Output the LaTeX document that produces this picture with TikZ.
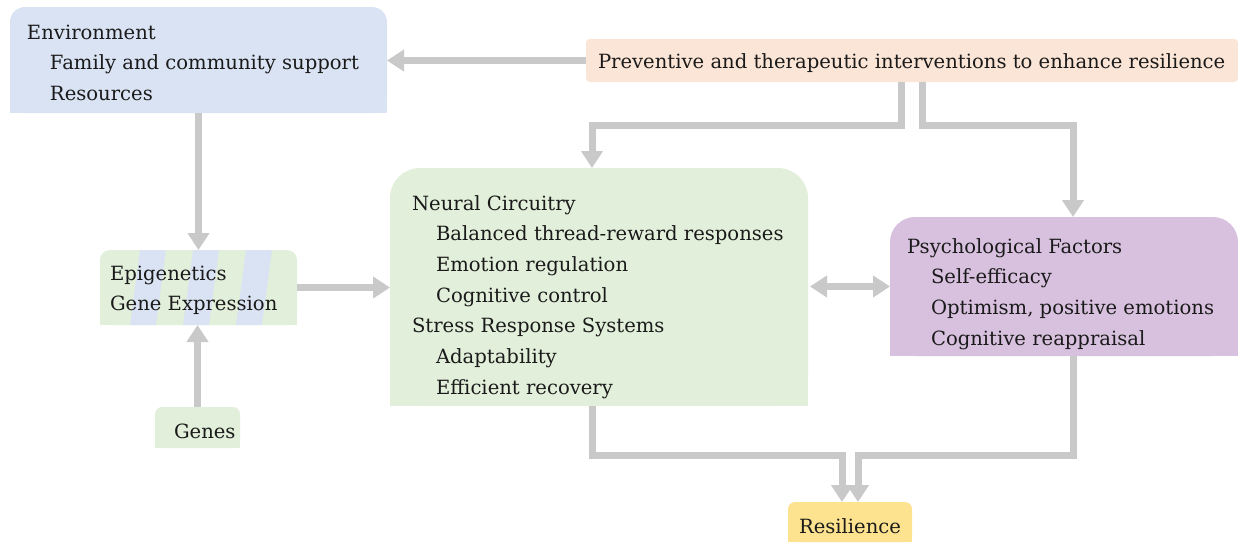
\documentclass[tikz,border=0pt]{standalone}
\usepackage{fontspec}
\setmainfont{DejaVu Serif}
\usetikzlibrary{arrows.meta,calc}

\definecolor{envblue}{HTML}{DAE3F3}
\definecolor{prevpeach}{HTML}{FBE5D6}
\definecolor{neurgreen}{HTML}{E2EFDA}
\definecolor{psychpurple}{HTML}{D8C1DF}
\definecolor{resyellow}{HTML}{FDE38F}
\definecolor{arrowgray}{HTML}{C9C9C9}
\definecolor{inkblack}{HTML}{1A1A1A}

% fill a box whose top corners are rounded and bottom corners square
\newcommand\topround[3]{%
  \fill[#2,rounded corners=#3] (#1.north west) rectangle (#1.south east);
  \fill[#2] (#1.west) rectangle (#1.south east);}

\begin{document}
\begin{tikzpicture}[x=1pt,y=-1pt,
  box/.style={draw=none,fill=none,inner sep=0,outer sep=0,anchor=north west},
  txt/.style={inner sep=0,outer sep=0,anchor=base west,text=inkblack,
    font=\fontsize{19.6}{30.7}\selectfont},
  arr/.style={draw=arrowgray,line width=7pt,-{Triangle[width=21pt,length=17pt]}},
  dbl/.style={draw=arrowgray,line width=7pt,{Triangle[width=21pt,length=17pt]}-{Triangle[width=21pt,length=17pt]}},
]
\useasboundingbox (0,0) rectangle (1238,542);

% box frames
\node[box,minimum width=377pt,minimum height=106pt] (env) at (10,7) {};
\node[box,minimum width=652pt,minimum height=43pt] (prev) at (586,39) {};
\node[box,minimum width=418pt,minimum height=238pt] (neural) at (390,168) {};
\node[box,minimum width=348pt,minimum height=139pt] (psych) at (890,217) {};
\node[box,minimum width=197pt,minimum height=75pt] (epi) at (100,250) {};
\node[box,minimum width=85pt,minimum height=41pt] (genes) at (155,407) {};
\node[box,minimum width=124pt,minimum height=40pt] (res) at (788,502) {};

% box fills
\topround{env}{envblue}{15pt}
\fill[prevpeach,rounded corners=4pt] (prev.north west) rectangle (prev.south east);
\topround{neural}{neurgreen}{30pt}
\topround{psych}{psychpurple}{25pt}
\topround{epi}{neurgreen}{10pt}
\begin{scope}
  \clip (epi.north west) rectangle (epi.south east);
  \foreach \sx in {140,193,246}
    \fill[envblue] (\sx,250) -- (\sx+26,250) -- (\sx+16,325) -- (\sx-10,325) -- cycle;
\end{scope}
\topround{genes}{neurgreen}{7pt}
\topround{res}{resyellow}{7pt}

% connectors
\draw[arr] (prev.west) -- (prev.west -| env.east);
\draw[arr] ([xshift=-10.5pt]prev.south) -- ++(0,43) -| ([xshift=-7pt]neural.north);
\draw[arr] ([xshift=10.5pt]prev.south) -- ++(0,43) -| ([xshift=9pt]psych.north);
\draw[arr] (env.south) -- (epi.north);
\draw[arr] (genes.north) -- (genes.north |- epi.south);
\draw[arr] (epi.east) -- (epi.east -| neural.west);
\draw[dbl] ([xshift=2pt]neural.east |- psych.west) -- (psych.west);
\draw[arr] ([xshift=-7pt]neural.south) -- ++(0,49) -| ([xshift=-8pt]res.north);
\draw[arr] ([xshift=9pt]psych.south) -- ++(0,99) -| ([xshift=8pt]res.north);

% labels
\node[txt] (envtxt) at (27,39) {\begin{tabular}[t]{@{}l@{}}Environment\\
  \hspace*{23pt}Family and community support\\
  \hspace*{23pt}Resources\end{tabular}};
\node[txt] (prevtxt) at (598,68) {Preventive and therapeutic interventions to enhance resilience};
\node[txt] (neuraltxt) at (412,210) {\begin{tabular}[t]{@{}l@{}}Neural Circuitry\\
  \hspace*{24pt}Balanced thread-reward responses\\
  \hspace*{24pt}Emotion regulation\\
  \hspace*{24pt}Cognitive control\\
  Stress Response Systems\\
  \hspace*{24pt}Adaptability\\
  \hspace*{24pt}Efficient recovery\end{tabular}};
\node[txt] (psychtxt) at (907,253) {\begin{tabular}[t]{@{}l@{}}Psychological Factors\\
  \hspace*{24pt}Self-efficacy\\
  \hspace*{24pt}Optimism, positive emotions\\
  \hspace*{24pt}Cognitive reappraisal\end{tabular}};
\node[txt] (epitxt) at (110,280) {\begin{tabular}[t]{@{}l@{}}Epigenetics\\Gene Expression\end{tabular}};
\node[txt] (genestxt) at (174,438) {Genes};
\node[txt] (restxt) at (799,533) {Resilience};
\end{tikzpicture}
\end{document}
